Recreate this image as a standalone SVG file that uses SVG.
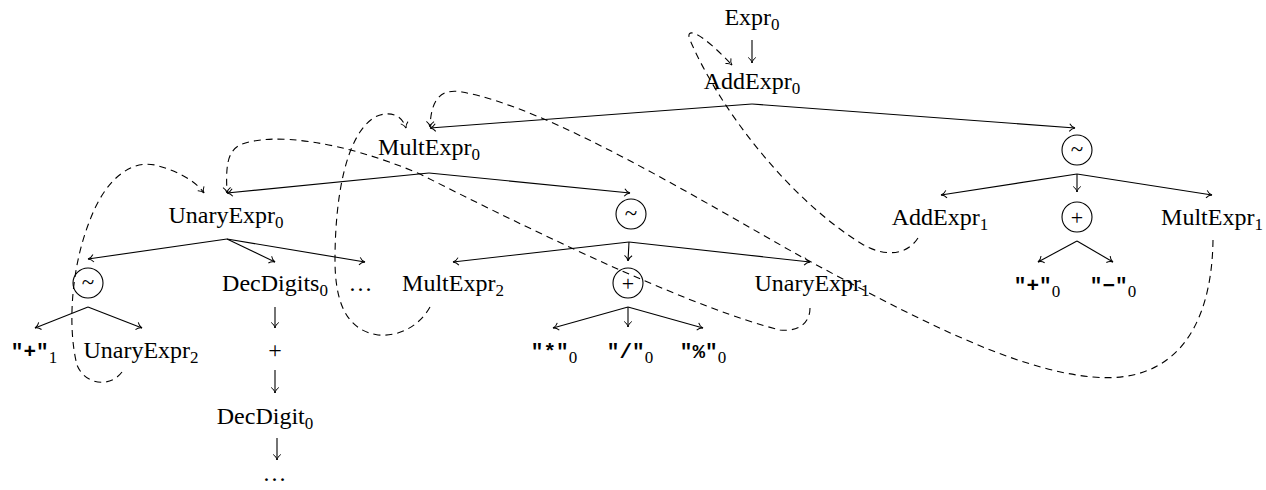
<svg xmlns="http://www.w3.org/2000/svg" width="1266" height="490" viewBox="0 0 1266 490">
<defs>
<marker id="ah" markerUnits="userSpaceOnUse" markerWidth="12" markerHeight="12" viewBox="-7 -6 9 12" refX="0" refY="0" orient="auto">
<path d="M -5.5 -3.8 C -4 -1.5 -1.5 -0.3 0 0 C -1.5 0.3 -4 1.5 -5.5 3.8" fill="none" stroke="#000" stroke-width="1"/>
</marker>
<style>
.t{font-family:"Liberation Serif","Times New Roman",serif;font-size:24px;fill:#000;text-anchor:middle}
.m{font-family:"Liberation Mono","Courier New",monospace;font-weight:bold;font-size:21px}
.s{font-family:"Liberation Serif","Times New Roman",serif;font-size:17px;font-weight:normal}
.e{fill:none;stroke:#000;stroke-width:1.1;marker-end:url(#ah)}
.d{fill:none;stroke:#000;stroke-width:1.1;stroke-dasharray:7 5;marker-end:url(#ah)}
.c{fill:none;stroke:#000;stroke-width:1.1}
.o{font-size:23px}
</style>
</defs>
<rect width="1266" height="490" fill="#fff"/>

<g id="connectors">
<path class="e" d="M752 40 L752 63"/>
<path class="e" d="M752 104 L430 128"/>
<path class="e" d="M752 104 L1075 128"/>
<path class="e" d="M429 173 L227 193"/>
<path class="e" d="M429 173 L630 193"/>
<path class="e" d="M227 239 L88 259"/>
<path class="e" d="M227 239 L275 262"/>
<path class="e" d="M227 239 L365 262"/>
<path class="e" d="M88 307 L35 328"/>
<path class="e" d="M88 307 L142 328"/>
<path class="e" d="M275 307 L275 328"/>
<path class="e" d="M275 370 L275 393"/>
<path class="e" d="M277 438 L277 460"/>
<path class="e" d="M629 242 L453 262"/>
<path class="e" d="M629 242 L628 261"/>
<path class="e" d="M629 242 L810 262"/>
<path class="e" d="M628 307 L553 328"/>
<path class="e" d="M628 307 L628 327"/>
<path class="e" d="M628 307 L703 328"/>
<path class="e" d="M1077 174 L941 195"/>
<path class="e" d="M1077 174 L1077 192"/>
<path class="e" d="M1077 174 L1212 195"/>
<path class="e" d="M1077 241 L1038 262"/>
<path class="e" d="M1077 241 L1113 262"/>

<path class="d" d="M918 238 C905 258 880 255 862 244 C790 200 720 110 690 40 C685 28 697 28 732 65"/>
<path class="d" d="M1213 240 C1212 320 1180 385 1093 377 C1010 370 900 310 800 256 C700 200 550 108 462 92 C440 88 431 100 430 127"/>
<path class="d" d="M810 308 C810 322 800 332 780 330 C700 310 560 245 420 174 C340 140 270 132 240 145 C226 152 226 170 227 193"/>
<path class="d" d="M430 307 C420 325 400 337 378 335 C345 330 335 300 335 260 C335 200 345 135 375 117 C390 110 402 115 406 128"/>
<path class="d" d="M122 372 C110 388 85 385 77 365 C68 330 70 270 90 220 C105 180 130 160 155 165 C175 170 195 180 204 193"/>
</g>

<g id="n-expr0"><text class="t" x="752" y="25">Expr<tspan class="s" dy="5">0</tspan></text></g>
<g id="n-addexpr0"><text class="t" x="752" y="89">AddExpr<tspan class="s" dy="5">0</tspan></text></g>
<g id="n-multexpr0"><text class="t" x="429" y="155">MultExpr<tspan class="s" dy="5">0</tspan></text></g>
<g id="n-seq-right"><circle class="c" cx="1077" cy="150" r="15"/><text class="t o" x="1077" y="157">~</text></g>
<g id="n-unaryexpr0"><text class="t" x="226" y="223">UnaryExpr<tspan class="s" dy="5">0</tspan></text></g>
<g id="n-seq-mid"><circle class="c" cx="631" cy="214" r="15"/><text class="t o" x="631" y="221">~</text></g>
<g id="n-addexpr1"><text class="t" x="940" y="225">AddExpr<tspan class="s" dy="5">1</tspan></text></g>
<g id="n-alt-right"><circle class="c" cx="1077" cy="217" r="15"/><text class="t" x="1077" y="225" style="font-size:22px">+</text></g>
<g id="n-multexpr1"><text class="t" x="1212" y="225">MultExpr<tspan class="s" dy="5">1</tspan></text></g>
<g id="n-seq-left"><circle class="c" cx="88" cy="283" r="15"/><text class="t o" x="88" y="290">~</text></g>
<g id="n-decdigits0"><text class="t" x="275" y="291">DecDigits<tspan class="s" dy="5">0</tspan></text></g>
<g id="n-dots1"><text class="t" x="361" y="291" letter-spacing="1">…</text></g>
<g id="n-multexpr2"><text class="t" x="453" y="291">MultExpr<tspan class="s" dy="5">2</tspan></text></g>
<g id="n-alt-mid"><circle class="c" cx="628" cy="283" r="15"/><text class="t" x="628" y="291" style="font-size:22px">+</text></g>
<g id="n-unaryexpr1"><text class="t" x="812" y="291">UnaryExpr<tspan class="s" dy="5">1</tspan></text></g>
<g id="n-plus0"><text class="t" x="1037" y="292"><tspan class="m">"+"</tspan><tspan class="s" dy="5">0</tspan></text></g>
<g id="n-minus0"><text class="t" x="1113" y="292"><tspan class="m">"−"</tspan><tspan class="s" dy="5">0</tspan></text></g>
<g id="n-plus1"><text class="t" x="34" y="358"><tspan class="m">"+"</tspan><tspan class="s" dy="5">1</tspan></text></g>
<g id="n-unaryexpr2"><text class="t" x="141" y="358">UnaryExpr<tspan class="s" dy="5">2</tspan></text></g>
<g id="n-plus-rep"><text class="t" x="275" y="358">+</text></g>
<g id="n-star0"><text class="t" x="554" y="358"><tspan class="m">"*"</tspan><tspan class="s" dy="5">0</tspan></text></g>
<g id="n-slash0"><text class="t" x="630" y="358"><tspan class="m">"/"</tspan><tspan class="s" dy="5">0</tspan></text></g>
<g id="n-pct0"><text class="t" x="703" y="358"><tspan class="m">"%"</tspan><tspan class="s" dy="5">0</tspan></text></g>
<g id="n-decdigit0"><text class="t" x="265" y="424">DecDigit<tspan class="s" dy="5">0</tspan></text></g>
<g id="n-dots2"><text class="t" x="275" y="481" letter-spacing="1">…</text></g>
</svg>
